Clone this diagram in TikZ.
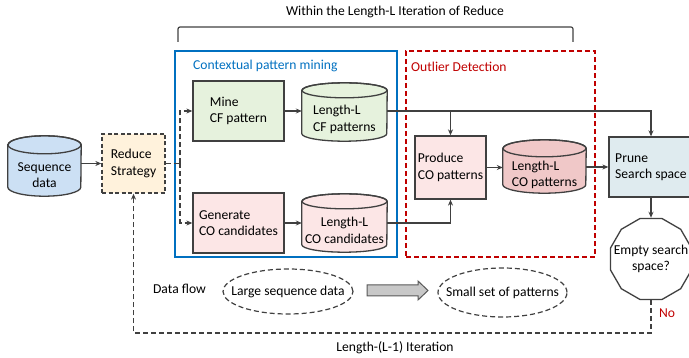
\documentclass[tikz,border=0pt]{standalone}
\usepackage{fontspec}
\setmainfont{Carlito}
\usetikzlibrary{shapes.geometric,arrows.meta}
\definecolor{lineC}{HTML}{404040}
\definecolor{blueC}{HTML}{0070C0}
\definecolor{redC}{HTML}{C00000}
\definecolor{seqC}{HTML}{CCE0F4}
\definecolor{orangeC}{HTML}{FFF2DC}
\definecolor{greenC}{HTML}{E6F2DD}
\definecolor{pinkC}{HTML}{FCE6E6}
\definecolor{copC}{HTML}{F0C8C8}
\definecolor{pruneC}{HTML}{DFEBEF}
\definecolor{grayC}{HTML}{C8C8C8}
\definecolor{grayB}{HTML}{595959}
\newcommand\mycyl[4]{%
  \path[cylline, fill=#2] ([yshift=#4]#1.north west) -- ([yshift=#4]#1.south west)
    arc[start angle=180, end angle=360, x radius=#3, y radius=#4]
    -- ([yshift=#4]#1.north east)
    arc[start angle=0, end angle=180, x radius=#3, y radius=#4] -- cycle;
  \draw[cylline] ([yshift=#4]#1.north) ellipse[x radius=#3, y radius=#4];
}
\begin{document}
\begin{tikzpicture}[x=1pt,y=-1pt,
  every node/.style={font=\fontsize{13.6}{16.5}\selectfont, text=black},
  box/.style={draw=lineC, line width=1.3pt, rectangle, inner sep=0pt, align=left},
  cylface/.style={inner sep=0pt, rectangle},
  cylline/.style={draw=lineC, line width=1.3pt},
  conn/.style={draw=lineC, line width=1.2pt},
  arr/.style={conn, -{Stealth[length=6pt,width=5pt]}},
  dflow/.style={conn, dash pattern=on 5pt off 3pt},
  darr/.style={dflow, -{Stealth[length=6pt,width=5pt]}},
  region/.style={rectangle, line width=1.4pt, inner sep=0pt},
]
\useasboundingbox (0,0) rectangle (689,358);
\clip (0,0) rectangle (689,358);

% title and bracket
\node (title) at (395,12) {Within the Length-L Iteration of Reduce};
\draw[conn, rounded corners=2pt] (178,42) -- (178,27) -- (573,27) -- (573,42);

% regions
\node[region, draw=blueC, minimum width=222pt, minimum height=206pt] (cpm) at (286,154) {};
\node[region, draw=redC, dash pattern=on 5pt off 3pt, minimum width=189pt, minimum height=206pt] (od) at (500.5,154) {};
\node[text=blueC, anchor=west, inner sep=0pt] (cpmL) at (193,66) {Contextual pattern mining};
\node[text=redC, anchor=west, inner sep=0pt] (odL) at (411,67) {Outlier Detection};

% cylinders
\node[cylface, minimum width=73pt, minimum height=42pt] (seq) at (44.5,175) {};
\mycyl{seq}{seqC}{36.5pt}{9pt}
\node[align=center] (seqT) at (seq.center) {Sequence\\data};

\node[cylface, minimum width=85pt, minimum height=43pt] (cfp) at (344.5,119.5) {};
\mycyl{cfp}{greenC}{42.5pt}{7.5pt}
\node[align=left] (cfpT) at (cfp.center) {Length-L\\CF patterns};

\node[cylface, minimum width=85pt, minimum height=43pt] (coc) at (344.5,230.5) {};
\mycyl{coc}{pinkC}{42.5pt}{7.5pt}
\node[align=center] (cocT) at (coc.center) {Length-L\\CO candidates};

\node[cylface, minimum width=83pt, minimum height=36pt] (cop) at (544.5,175) {};
\mycyl{cop}{copC}{41.5pt}{8.5pt}
\node[align=left] (copT) at (cop.center) {Length-L\\CO patterns};

% boxes
\node[box, fill=orangeC, dash pattern=on 4pt off 2.5pt, minimum width=63pt, minimum height=59pt] (reduce) at (133.5,163.5) {Reduce\\Strategy};
\node[box, fill=greenC, minimum width=91pt, minimum height=60pt] (mine) at (238.5,111) {Mine\\CF pattern};
\node[box, fill=pinkC, minimum width=91pt, minimum height=60pt] (gen) at (238.5,223) {Generate\\CO candidates};
\node[box, fill=pinkC, minimum width=71pt, minimum height=63pt] (prod) at (450.5,167.5) {Produce\\CO patterns};
\node[box, fill=pruneC, minimum width=84pt, minimum height=60pt] (prune) at (651,167) {Prune\\Search space};
\node[draw=lineC, line width=1.3pt, fill=white, regular polygon, regular polygon sides=12, minimum size=84pt, inner sep=0pt] (oct) at (651,259) {};
\node[align=center] (octT) at (oct.center) {Empty search\\space?};

% legend
\node (df) at (179.5,289) {Data flow};
\node[draw=lineC, line width=1.2pt, dash pattern=on 5pt off 3pt, ellipse, minimum width=130pt, minimum height=45pt, inner sep=0pt] (large) at (288,291.5) {};
\node (largeT) at (large.center) {Large sequence data};
\node[draw=lineC, line width=1.2pt, dash pattern=on 5pt off 3pt, ellipse, minimum width=129pt, minimum height=49pt, inner sep=0pt] (small) at (502.5,292.5) {};
\node (smallT) at (small.center) {Small set of patterns};
\draw[fill=grayC, draw=grayB, line width=1pt] (367,285) -- (418,285) -- (418,281) -- (428,290.5) -- (418,300) -- (418,296) -- (367,296) -- cycle;

% labels
\node[text=redC] (no) at (667,313) {No};
\node (iter) at (395,348) {Length-(L-1) Iteration};

% connectors
\draw[arr] (seq.east |- reduce.west) -- (reduce.west);
\coordinate (split) at (180,163.5);
\draw[dflow] (reduce.east) -- (split);
\draw[darr] (split) |- (mine.west);
\draw[darr] (split) |- (gen.west);
\draw[arr] (mine.east) -- (mine.east -| cfp.west);
\draw[arr] (gen.east) -- (gen.east -| coc.west);
\coordinate (cfout) at (cfp.east |- mine.east);
\draw[arr] (cfout) -| (prune.north);
\draw[arr] (cfout -| prod.north) -- (prod.north);
\coordinate (coout) at (coc.east |- gen.east);
\draw[arr] (coout) -| (prod.south);
\draw[arr] (prod.east) -- (prod.east -| cop.west);
\draw[arr] (cop.east |- prune.west) -- (prune.west);
\draw[arr] (prune.south) -- (oct.north);
\coordinate (fb) at (400,333);
\draw[darr] (oct.south) |- (fb) -| (reduce.south);
\end{tikzpicture}
\end{document}
